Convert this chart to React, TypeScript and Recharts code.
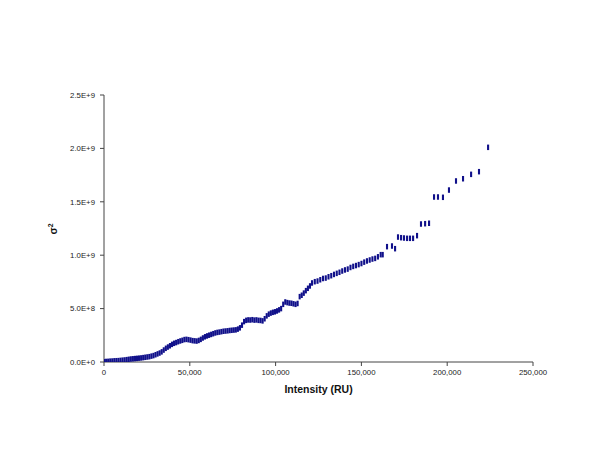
import React from 'react';
import { ScatterChart, Scatter, XAxis, YAxis } from 'recharts';

const intensity = [
  0, 1200, 2400, 3600, 4800, 6000, 7200, 8400, 9600, 10800,
  12000, 13200, 14400, 15600, 16800, 18000, 19200, 20400, 21600, 22800,
  24000, 25200, 26400, 27600, 28800, 30000, 31200, 32400, 33600, 34800,
  36000, 37200, 38400, 39600, 40800, 42000, 43200, 44400, 45600, 46800,
  48000, 49200, 50400, 51600, 52800, 54000, 55200, 56400, 57600, 58800,
  60000, 61200, 62400, 63600, 64800, 66000, 67200, 68400, 69600, 70800,
  72000, 73200, 74400, 75600, 76800, 78000, 79200, 80400, 81600, 82800,
  84000, 85200, 86400, 87600, 88800, 90000, 91200, 92400, 93600, 94800,
  96000, 97200, 98400, 99600, 100800, 102000, 103200, 104400, 105600, 106800,
  108000, 109200, 110400, 111600, 112800, 114000, 115200, 116400, 117600, 118800,
  120000, 121200,
  122800, 124400, 126000, 127600, 129200, 130800, 132400, 134000, 135600, 137200,
  138800, 140400, 142000, 143600, 145200, 146800, 148400, 150000, 151600, 153200,
  154800, 156400, 158000, 159600, 161200, 162400,
  164900, 167800, 169600, 171300, 173100, 174800, 176600, 178300, 180100, 182400,
  184700, 187100, 189400, 192300, 194600, 197500, 201000, 205100, 209200, 213900,
  218500, 223800,
];

const variance = [
  3e6, 5e6, 6e6, 8e6, 9e6, 11e6, 12e6, 13e6, 15e6, 17e6,
  19e6, 22e6, 25e6, 28e6, 30e6, 32e6, 34e6, 36e6, 38e6, 41e6,
  44e6, 47e6, 50e6, 55e6, 60e6, 68e6, 76e6, 84e6, 95e6, 112e6,
  128e6, 140e6, 152e6, 165e6, 175e6, 182e6, 190e6, 197e6, 203e6, 210e6,
  212e6, 209e6, 205e6, 200e6, 198e6, 196e6, 202e6, 212e6, 225e6, 236e6,
  244e6, 251e6, 258e6, 265e6, 272e6, 277e6, 280e6, 284e6, 288e6, 290e6,
  292e6, 295e6, 297e6, 299e6, 301e6, 308e6, 320e6, 345e6, 378e6, 390e6,
  394e6, 393e6, 396e6, 392e6, 394e6, 390e6, 389e6, 385e6, 405e6, 432e6,
  448e6, 458e6, 465e6, 470e6, 478e6, 488e6, 500e6, 540e6, 562e6, 556e6,
  552e6, 550e6, 545e6, 540e6, 548e6, 612e6, 625e6, 645e6, 668e6, 690e6,
  712e6, 740e6,
  752e6, 758e6, 770e6, 782e6, 786e6, 798e6, 808e6, 820e6, 830e6, 840e6,
  852e6, 862e6, 870e6, 885e6, 895e6, 903e6, 912e6, 922e6, 935e6, 946e6,
  955e6, 964e6, 970e6, 985e6, 1005e6, 1005e6,
  1080e6, 1086e6, 1061e6, 1170e6, 1164e6, 1161e6, 1158e6, 1158e6, 1158e6, 1183e6,
  1292e6, 1295e6, 1299e6, 1545e6, 1545e6, 1542e6, 1610e6, 1695e6, 1716e6, 1757e6,
  1782e6, 2010e6,
];

const xTicks = [0, 50000, 100000, 150000, 200000, 250000];
const yTicks = [0, 5e8, 1e9, 1.5e9, 2e9, 2.5e9];
const xTitle = 'Intensity (RU)';
const yTitleBase = 'σ';
const yTitleSup = '2';

const data = intensity.map((x, i) => ({ x, y: variance[i] }));

const FONT = '"Liberation Sans", Arial, sans-serif';

const fmtX = (v: number) => v.toLocaleString('en-US');
const fmtY = (v: number) => {
  if (v === 0) return '0.0E+0';
  const e = Math.floor(Math.log10(v) + 1e-9);
  return (v / Math.pow(10, e)).toFixed(1) + 'E+' + e;
};

const Dash = (props: any) => {
  const { cx, cy } = props;
  if (cx == null || cy == null) return null;
  return <rect x={cx - 1} y={cy - 2.75} width={2.1} height={5.5} fill="#10108a" />;
};

const XTitle = () => (
  <text x={318.5} y={393} textAnchor="middle" fontFamily={FONT} fontSize={10.5} fontWeight="bold" fill="#111">
    {xTitle}
  </text>
);

const YTitle = () => (
  <text transform="translate(57,229) rotate(-90)" x={0} y={0} textAnchor="middle" fontFamily={FONT} fontSize={10.5} fontWeight="bold" fill="#111">
    {yTitleBase}
    <tspan dy={-4} fontSize={7}>{yTitleSup}</tspan>
  </text>
);

export default function App() {
  return (
    <div style={{ position: 'absolute', left: 0, top: 0, width: 600, height: 463, background: '#fff' }}>
      <ScatterChart width={600} height={463} margin={{ top: 95, right: 67, bottom: 0, left: 0 }}>
        <XAxis
          type="number"
          dataKey="x"
          domain={[0, 250000]}
          ticks={xTicks}
          tickFormatter={fmtX}
          height={101}
          tickSize={4}
          tickMargin={3}
          stroke="#444"
          tick={{ fontSize: 7.8, fontFamily: FONT, fill: '#1a1a1a' }}
          label={<XTitle />}
          allowDataOverflow
        />
        <YAxis
          type="number"
          dataKey="y"
          domain={[0, 2.5e9]}
          ticks={yTicks}
          tickFormatter={fmtY}
          width={104}
          tickSize={4}
          tickMargin={5}
          stroke="#444"
          tick={{ fontSize: 7.8, fontFamily: FONT, fill: '#1a1a1a' }}
          label={<YTitle />}
          allowDataOverflow
        />
        <Scatter data={data} fill="#10108a" shape={Dash} isAnimationActive={false} />
      </ScatterChart>
    </div>
  );
}
